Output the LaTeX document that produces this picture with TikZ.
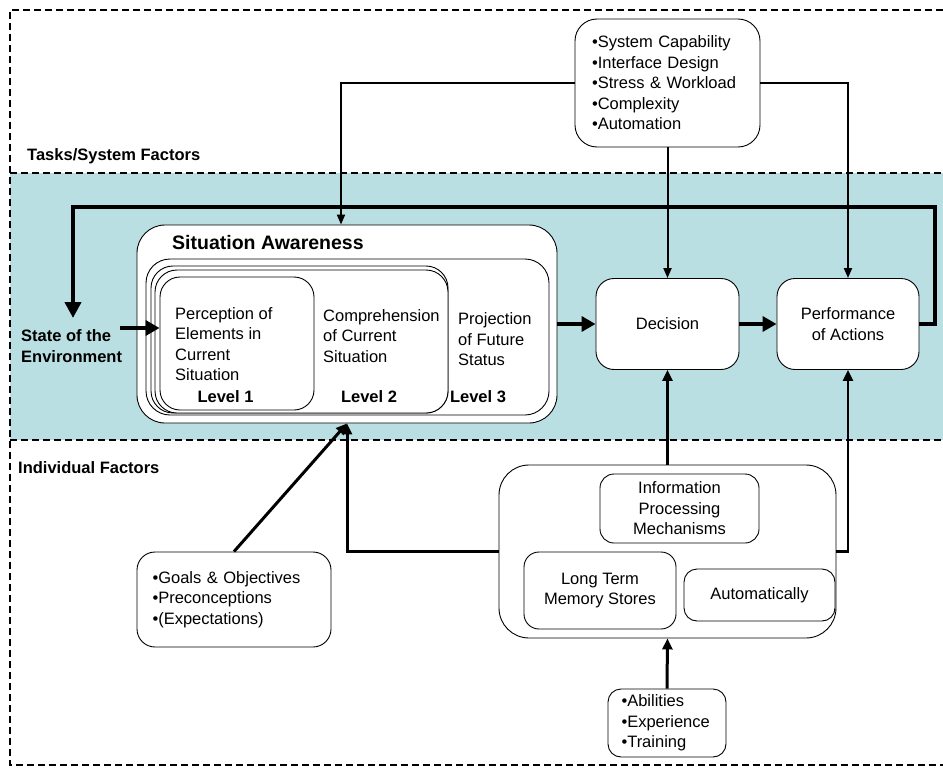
\documentclass[tikz,border=0pt]{standalone}
\usepackage{fontspec}
\setmainfont{Liberation Sans}
\usetikzlibrary{arrows.meta,calc}
\definecolor{bandcol}{HTML}{BADFE2}
\newcommand\txtf{\fontsize{16.5}{20.5}\selectfont}
\begin{document}
\begin{tikzpicture}[x=1pt,y=-1pt,
  box/.style={draw, fill=white, line width=0.9pt, inner sep=0pt, font=\txtf, align=center},
  lbl/.style={inner sep=0pt, align=left, font=\txtf},
  bold/.style={font=\txtf\bfseries},
  dashline/.style={line width=2.5pt, dash pattern=on 7pt off 4pt},
  thinarr/.style={line width=2pt, -{Triangle[length=10pt,width=8pt]}},
  medarr/.style={line width=2.5pt, -{Triangle[length=11pt,width=10pt]}},
  midarr/.style={line width=3pt, -{Triangle[length=11pt,width=10pt]}},
  thickarr/.style={line width=4pt, -{Triangle[length=14pt,width=15pt]}},
  fbarr/.style={line width=4pt, -{Triangle[length=16pt,width=16pt]}}]
\useasboundingbox (0,0) rectangle (943,768);
% background band and frame
\fill[bandcol] (10,173) rectangle (943,440);
\draw[dashline] (10,173) -- (943,173);
\draw[dashline] (10,440) -- (943,440);
\draw[dashline] (943,10) -- (10,10) -- (10,765) -- (943,765);

\node[lbl, bold, anchor=west] (tasks) at (27,156) {Tasks/System Factors};
\node[lbl, bold, anchor=west] (indiv) at (18,468) {Individual Factors};

% top factors box
\node[box, rounded corners=22pt, minimum height=128pt, text width=151pt, inner xsep=17pt, align=left] (topf) at (667.5,83)
  {•System Capability\\•Interface Design\\•Stress \& Workload\\•Complexity\\•Automation};

% situation awareness nest
\node[box, rounded corners=28pt, minimum width=420pt, minimum height=198pt] (sa) at (347,324) {};
\node[box, rounded corners=24pt, minimum width=403pt, minimum height=156pt] (l3) at (347.5,337) {};
\node[box, rounded corners=22pt, minimum width=297pt, minimum height=147pt] (l2a) at (299.5,339.5) {};
\node[box, rounded corners=22pt, minimum width=293pt, minimum height=143pt] (l2b) at (301.5,341.5) {};
\node[box, rounded corners=20pt, minimum width=154pt, minimum height=133pt] (l1) at (237,343.5) {};
\node[lbl, anchor=west, font=\fontsize{19.5}{23}\selectfont\bfseries] (satitle) at (172,243) {Situation Awareness};
\node[lbl, anchor=west] (t1) at (175,344) {Perception of\\Elements in\\Current\\Situation};
\node[lbl, bold] (lv1) at (225.5,397) {Level 1};
\node[lbl, anchor=west] (t2) at (323,336) {Comprehension\\of Current\\Situation};
\node[lbl, bold] (lv2) at (369,397) {Level 2};
\node[lbl, anchor=west] (t3) at (458,339.5) {Projection\\of Future\\Status};
\node[lbl, bold] (lv3) at (478,397) {Level 3};

\node[lbl, bold, anchor=west] (env) at (21,346) {State of the\\Environment};

% decision and performance
\node[box, rounded corners=18pt, minimum width=143pt, minimum height=91pt] (dec) at (667.5,324) {Decision};
\node[box, rounded corners=18pt, minimum width=142pt, minimum height=91pt] (perf) at (848,324) {Performance\\of Actions};

% individual factors
\node[box, rounded corners=30pt, minimum width=337pt, minimum height=173pt] (if) at (667.5,551.5) {};
\node[box, rounded corners=14pt, minimum width=159pt, minimum height=69pt] (ipm) at (679.5,508.5) {Information\\Processing\\Mechanisms};
\node[box, rounded corners=15pt, minimum width=152pt, minimum height=77pt] (ltm) at (600,590.5) {Long Term\\Memory Stores};
\node[box, rounded corners=13pt, minimum width=151pt, minimum height=52pt] (auto) at (759.5,595) {Automatically};
\node[box, rounded corners=18pt, minimum height=95pt, text width=163pt, inner xsep=15.5pt, align=left] (goals) at (234,599.5)
  {•Goals \& Objectives\\•Preconceptions\\•(Expectations)};
\node[box, rounded corners=13pt, minimum height=68pt, text width=91pt, inner xsep=13.5pt, align=left] (abil) at (667,723)
  {•Abilities\\•Experience\\•Training};

% connectors
\coordinate (fbR) at (935,207);
\coordinate (fbL) at (73,207);
\coordinate (envTip) at (73,318);
\coordinate (envA) at (120,328);
\draw[thinarr] (topf.west) -| ($(sa.north)+(-6,0)$);
\draw[thinarr] (topf.south) -- (dec.north);
\draw[thinarr] (topf.east) -| (perf.north);
\draw[fbarr] (perf.east) -| (fbR) -- (fbL) -- (envTip);
\draw[thickarr] (envA) -- (envA -| l1.west);
\draw[thickarr] (sa.east) -- (dec.west);
\draw[thickarr] (dec.east) -- (perf.west);
\draw[medarr] (if.north) -- (dec.south);
\draw[medarr] (if.east) -| (perf.south);
\draw[midarr] (if.west) -| (sa.south);
\draw[midarr] (goals.north) -- (sa.south);
\draw[midarr] (abil.north) -- (if.south);
\end{tikzpicture}
\end{document}
